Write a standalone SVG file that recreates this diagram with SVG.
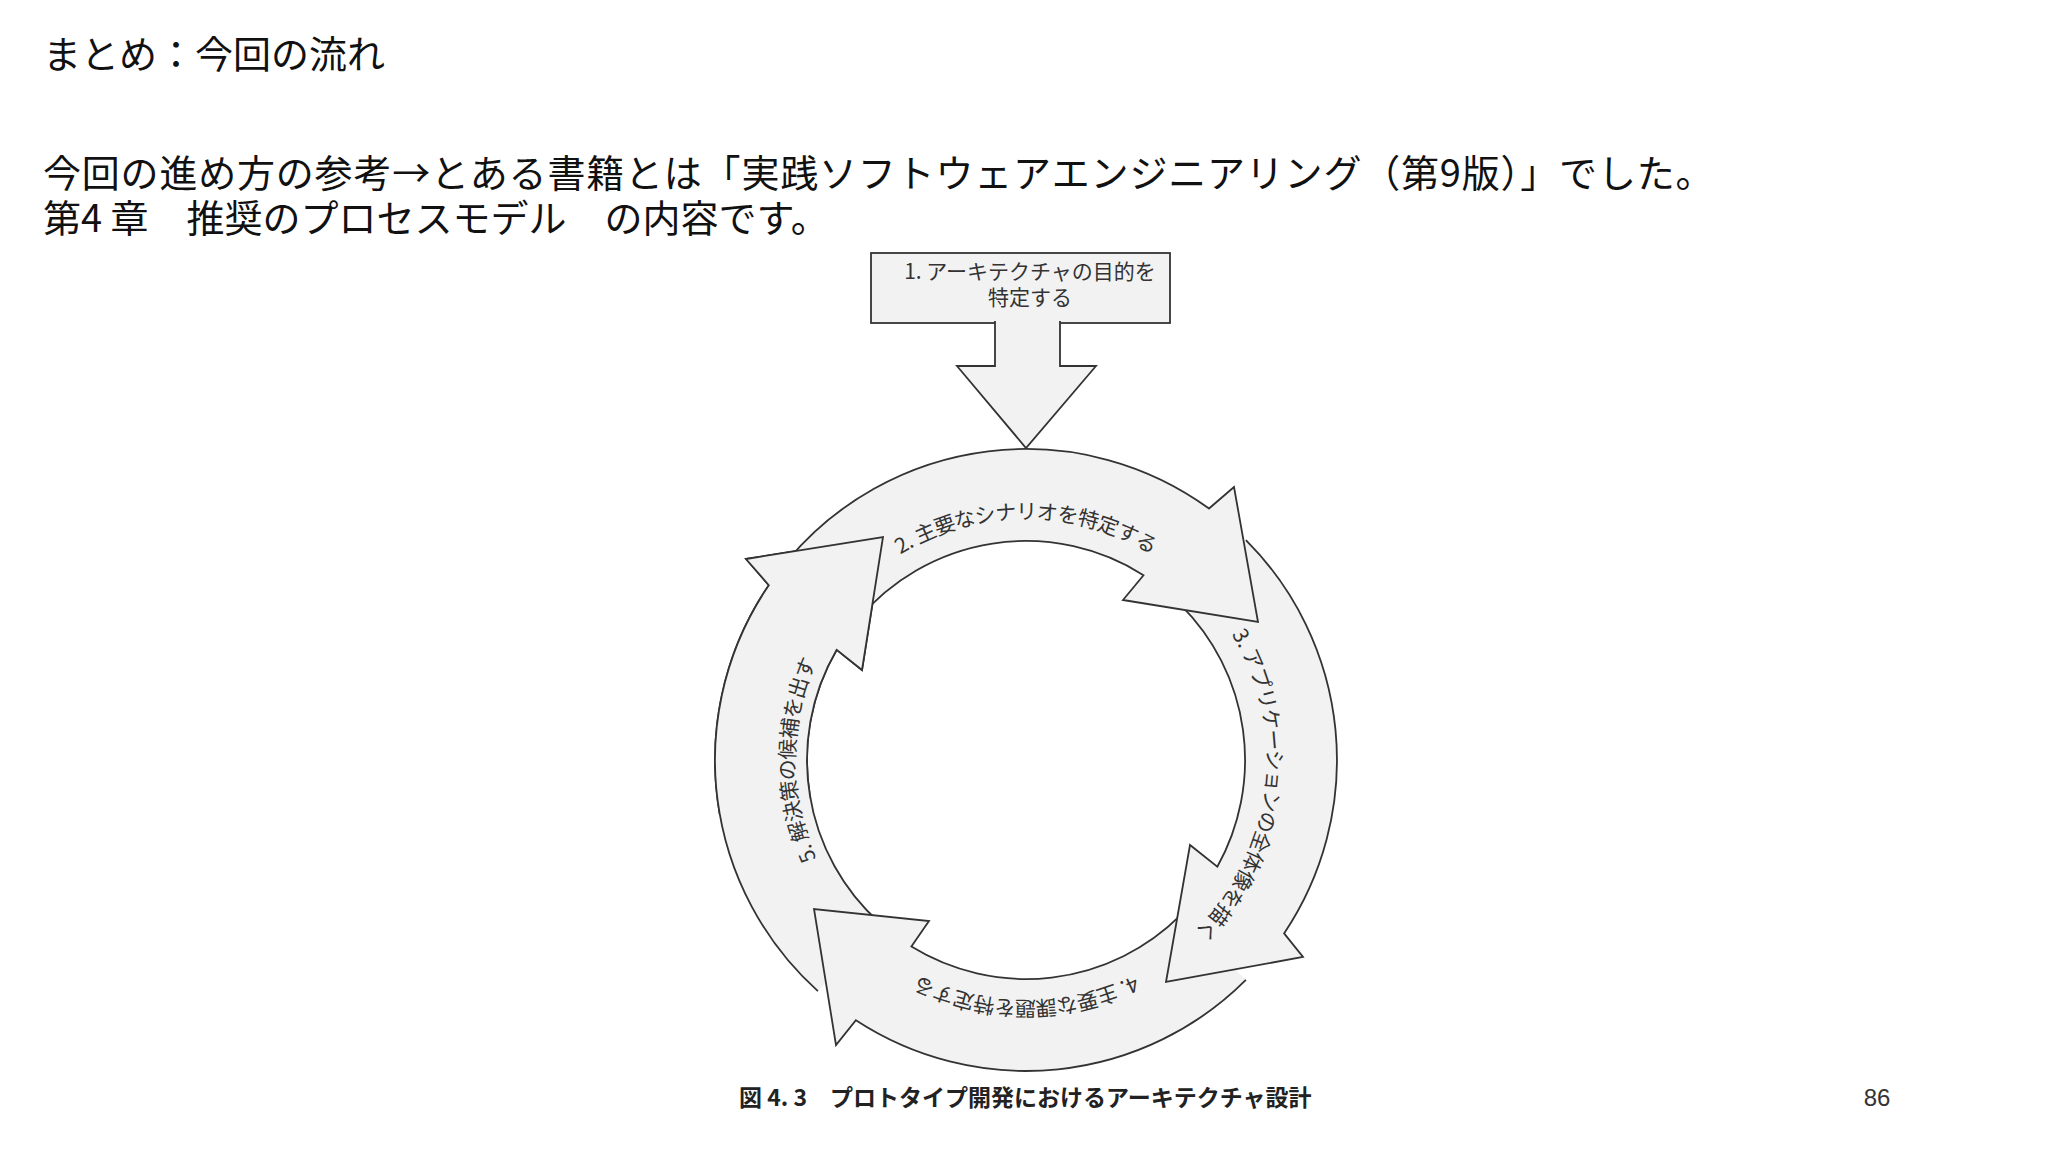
<svg xmlns="http://www.w3.org/2000/svg" width="2048" height="1152" viewBox="0 0 2048 1152">
<style>
.h{font-family:"Noto Sans CJK JP","Noto Sans",sans-serif;font-size:38px;fill:#111}
.sh{fill:#f2f2f2;stroke:#333;stroke-width:1.8;stroke-linejoin:miter}
.fo{fill:#f2f2f2;stroke:none}
.so{fill:none;stroke:#333;stroke-width:1.8}
.lb{font-family:"Noto Sans CJK JP","Noto Sans",sans-serif;font-size:21px;fill:#333}
</style>
<rect width="2048" height="1152" fill="#fff"/>
<text class="h" x="43" y="68">まとめ：今回の流れ</text>
<text class="h" x="43" y="187" letter-spacing="0.8">今回の進め方の参考→とある書籍とは「実践ソフトウェアエンジニアリング（第9版）」でした。</text>
<text class="h" x="43" y="232">第4 章　推奨のプロセスモデル　の内容です。</text>
<g id="node1">
<rect class="sh" x="871" y="253" width="299" height="70"/>
<path class="sh" d="M995 321 L995 366 L957 366 L1026 448 L1096 366 L1060 366 L1060 321"/>
<text class="lb" font-size="20" text-anchor="middle" x="1030" y="279">1. アーキテクチャの目的を</text>
<text class="lb" font-size="20" text-anchor="middle" x="1030" y="305">特定する</text>
</g>
<defs>
<path id="p2" d="M776 760 A250 250 0 0 1 1276 760"/>
<path id="p3" d="M1026 510 A250 250 0 0 1 1026 1010"/>
<path id="p4" d="M1276 760 A250 250 0 0 1 776 760"/>
<path id="p5" d="M1031 1005 A245 245 0 0 1 1031 515"/>
</defs>
<g id="connectors">
<g id="node5"><path class="sh" d="M817.9 991.1 A311 311 0 0 1 768.8 585.2 L746 559 L883 537 L862 670 L836.7 649.8 A219 219 0 0 0 879.5 922.7"/></g>
<g id="node4"><path class="sh" d="M1245.9 979.9 A311 311 0 0 1 855.9 1020.3 L836 1045 L814 909 L929 921 L911.4 946.6 A219 219 0 0 0 1180.9 914.9"/></g>
<g id="node3"><path class="sh" d="M1245.9 540.1 A311 311 0 0 1 1284.1 933.4 L1303 957 L1166 982 L1190 845 L1217.3 866.7 A219 219 0 0 0 1180.9 605.1"/></g>
<g id="node2"><path class="sh" d="M787.8 560.1 A311 311 0 0 1 1209 508.5 L1234 487 L1258 622 L1123 600 L1143.5 575.2 A219 219 0 0 0 858.2 619.2"/></g>
<path class="fo" d="M719.7 814 A311 311 0 0 1 768.8 585.2 L746 559 L883 537 L862 670 L836.7 649.8 A219 219 0 0 0 810.3 798 Z"/>
<path class="so" d="M719.7 814 A311 311 0 0 1 768.8 585.2 L746 559 L883 537 L862 670 L836.7 649.8 A219 219 0 0 0 810.3 798"/>
</g>
<text class="lb" dominant-baseline="central"><textPath href="#p2" startOffset="50%" text-anchor="middle">2. 主要なシナリオを特定する</textPath></text>
<text class="lb" dominant-baseline="central"><textPath href="#p3" startOffset="54%" text-anchor="middle">3. アプリケーションの全体像を描く</textPath></text>
<text class="lb" dominant-baseline="central"><textPath href="#p4" startOffset="50%" text-anchor="middle">4. 主要な課題を特定する</textPath></text>
<text class="lb" dominant-baseline="central"><textPath href="#p5" startOffset="50%" text-anchor="middle">5. 解決策の候補を出す</textPath></text>
<text x="739" y="1106" font-family="'Noto Sans CJK JP',sans-serif" font-weight="bold" font-size="23" fill="#222">図 4. 3　プロトタイプ開発におけるアーキテクチャ設計</text>
<text x="1877" y="1106" font-family="'Liberation Sans',sans-serif" font-size="24" fill="#333" text-anchor="middle">86</text>
</svg>
